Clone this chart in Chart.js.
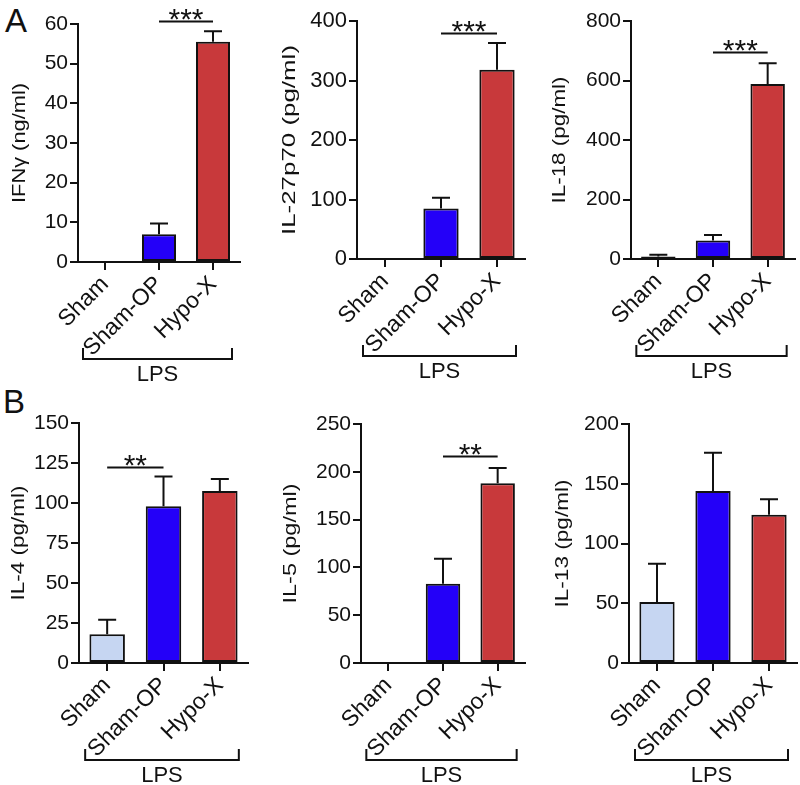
<!DOCTYPE html>
<html>
<head>
<meta charset="utf-8">
<script src="https://cdn.jsdelivr.net/npm/chart.js@4.4.1/dist/chart.umd.min.js"></script>
<style>
    body { margin: 0; background: #fff; width: 800px; height: 785px; position: relative; overflow: hidden; font-family: "Liberation Sans", Arial, sans-serif; }
    .panel { position: absolute; }
    .letter { position: absolute; font-size: 33px; color: #111; line-height: 1; }
</style>
</head>
<body>
<div class="letter" style="left:5px; top:4px;">A</div>
<div class="letter" style="left:3px; top:385px;">B</div>

<div class="panel" style="left:0px; top:0px; width:262px; height:390px;"><canvas id="c-ifng"></canvas></div>
<div class="panel" style="left:262px; top:0px; width:268px; height:390px;"><canvas id="c-il27"></canvas></div>
<div class="panel" style="left:530px; top:0px; width:270px; height:390px;"><canvas id="c-il18"></canvas></div>
<div class="panel" style="left:0px; top:390px; width:262px; height:395px;"><canvas id="c-il4"></canvas></div>
<div class="panel" style="left:262px; top:390px; width:268px; height:395px;"><canvas id="c-il5"></canvas></div>
<div class="panel" style="left:530px; top:390px; width:270px; height:395px;"><canvas id="c-il13"></canvas></div>

<script>
// --- datos ---
const groups = ['Sham', 'Sham-OP', 'Hypo-X'];
const groupColors = ['#c6d6f2', '#2400f8', '#c8393b'];

const ifngMean = [0, 7, 55.5];
const ifngSem  = [0, 2.7, 2.7];
const il27Mean = [0, 85, 318];
const il27Sem  = [0, 18, 45];
const il18Mean = [8, 62, 588];
const il18Sem  = [6, 19, 70];
const il4Mean  = [18, 98, 107.5];
const il4Sem   = [9, 18.5, 7.5];
const il5Mean  = [0, 83, 188];
const il5Sem   = [0, 26, 16];
const il13Mean = [51, 144, 124];
const il13Sem  = [32, 32, 13];

// ejes: [max, paso]
const ifngAxis = [60, 10];
const il27Axis = [400, 100];
const il18Axis = [800, 200];
const il4Axis  = [150, 25];
const il5Axis  = [250, 50];
const il13Axis = [200, 50];

// significancia: [grupo desde, grupo hasta, altura (unidades), etiqueta]
const ifngSig = [1, 2, 60.8, '***'];
const il27Sig = [1, 2, 380, '***'];
const il18Sig = [1, 2, 695, '***'];
const il4Sig  = [0, 1, 122.4, '**'];
const il5Sig  = [1, 2, 216.8, '**'];
const il13Sig = null;

const INK = '#111';
const FONT = '"Liberation Sans", Arial, sans-serif';

// error bars, significance bars, y title and LPS bracket
const annotations = {
    id: 'annotations',
    afterDatasetsDraw(chart, args, opts) {
        const ctx = chart.ctx;
        const meta = chart.getDatasetMeta(0);
        const y = chart.scales.y;
        ctx.save();
        ctx.strokeStyle = INK;
        ctx.lineWidth = 2;
        opts.sem.forEach((s, i) => {
            if (!s) return;
            const bar = meta.data[i];
            const yTop = y.getPixelForValue(opts.mean[i] + s);
            ctx.beginPath();
            ctx.moveTo(bar.x, bar.y);
            ctx.lineTo(bar.x, yTop);
            ctx.moveTo(bar.x - 9, yTop);
            ctx.lineTo(bar.x + 9, yTop);
            ctx.stroke();
        });
        ctx.restore();
    },
    afterDraw(chart, args, opts) {
        const ctx = chart.ctx;
        const x = chart.scales.x;
        const y = chart.scales.y;
        ctx.save();
        ctx.strokeStyle = INK;
        ctx.fillStyle = INK;
        ctx.lineWidth = 2;
        if (opts.sig) {
            const [a, b, h, label] = opts.sig;
            const ly = Math.round(y.getPixelForValue(h)) + 0.5;
            const x1 = x.getPixelForValue(a);
            const x2 = x.getPixelForValue(b);
            ctx.beginPath();
            ctx.moveTo(x1, ly);
            ctx.lineTo(x2, ly);
            ctx.stroke();
            ctx.font = '30px ' + FONT;
            ctx.textAlign = 'center';
            ctx.textBaseline = 'alphabetic';
            ctx.fillText(label, (x1 + x2) / 2, ly + 7);
        }
        // titulo del eje y (estirado a lo largo, como en la figura)
        const [text, len, cx] = opts.title;
        ctx.save();
        ctx.font = '18.5px ' + FONT;
        ctx.translate(cx, (y.top + y.bottom) / 2);
        ctx.rotate(-Math.PI / 2);
        const w = ctx.measureText(text).width;
        ctx.scale(len / w, 1);
        ctx.textAlign = 'center';
        ctx.textBaseline = 'middle';
        ctx.fillText(text, 0, 0);
        ctx.restore();
        // corchete LPS
        const bx1 = x.getPixelForValue(0) - 22;
        const bx2 = x.getPixelForValue(2) + 19;
        const by = y.bottom + 97;
        ctx.beginPath();
        ctx.moveTo(bx1, by - 11);
        ctx.lineTo(bx1, by);
        ctx.lineTo(bx2, by);
        ctx.lineTo(bx2, by - 11);
        ctx.stroke();
        ctx.font = '22px ' + FONT;
        ctx.textAlign = 'center';
        ctx.textBaseline = 'middle';
        ctx.fillText('LPS', (bx1 + bx2) / 2, by + 16);
        ctx.restore();
    }
};

function makePanel(id, title, mean, sem, axis, sig, box) {
    const el = document.getElementById(id);
    return new Chart(el.getContext('2d'), {
        type: 'bar',
        data: {
            labels: groups,
            datasets: [{
                data: mean,
                backgroundColor: groupColors,
                borderColor: INK,
                borderWidth: 2,
                borderSkipped: false,
                barPercentage: 0.63,
                categoryPercentage: 1
            }]
        },
        options: {
            responsive: true,
            maintainAspectRatio: false,
            animation: false,
            layout: { padding: { left: 0, top: box.top, right: box.right, bottom: 0 } },
            plugins: {
                legend: { display: false },
                tooltip: { enabled: false },
                annotations: { mean: mean, sem: sem, sig: sig, title: [title, box.titleLen, box.titleX] }
            },
            scales: {
                x: {
                    offset: true,
                    afterFit: (s) => { s.height = box.xh; },
                    grid: { offset: false, drawOnChartArea: false, drawTicks: true, tickLength: 8, color: INK, lineWidth: 2 },
                    border: { display: true, color: INK, width: 2 },
                    ticks: { autoSkip: false, minRotation: 45, maxRotation: 45, padding: 1, color: INK, font: { family: FONT, size: 23 } }
                },
                y: {
                    min: 0,
                    max: axis[0],
                    afterFit: (s) => { s.width = box.yw; },
                    grid: { drawOnChartArea: false, drawTicks: true, tickLength: 8, color: INK, lineWidth: 2 },
                    border: { display: true, color: INK, width: 2 },
                    ticks: { stepSize: axis[1], padding: 2, color: INK, font: { family: FONT, size: box.tickSize || 21 } },
                    title: { display: false }
                }
            }
        },
        plugins: [annotations]
    });
}

// cajas: yw = ancho del eje y, xh = alto del eje x
makePanel('c-ifng', 'IFNγ (ng/ml)', ifngMean, ifngSem, ifngAxis, ifngSig, { top: 24, right: 22, yw: 78, xh: 128, titleLen: 120, titleX: 20 });
makePanel('c-il27', 'IL-27p70 (pg/ml)', il27Mean, il27Sem, il27Axis, il27Sig, { top: 21, right: 5, yw: 95, xh: 131, titleLen: 190, titleX: 28, tickSize: 22 });
makePanel('c-il18', 'IL-18 (pg/ml)', il18Mean, il18Sem, il18Axis, il18Sig, { top: 21, right: 5, yw: 101, xh: 131, titleLen: 127, titleX: 30 });
makePanel('c-il4', 'IL-4 (pg/ml)', il4Mean, il4Sem, il4Axis, il4Sig, { top: 33, right: 14, yw: 79, xh: 122, titleLen: 115, titleX: 19 });
makePanel('c-il5', 'IL-5 (pg/ml)', il5Mean, il5Sem, il5Axis, il5Sig, { top: 34, right: 5, yw: 99, xh: 122, titleLen: 120, titleX: 29 });
makePanel('c-il13', 'IL-13 (pg/ml)', il13Mean, il13Sem, il13Axis, il13Sig, { top: 34, right: 3, yw: 99, xh: 122, titleLen: 128, titleX: 33 });
</script>
</body>
</html>
